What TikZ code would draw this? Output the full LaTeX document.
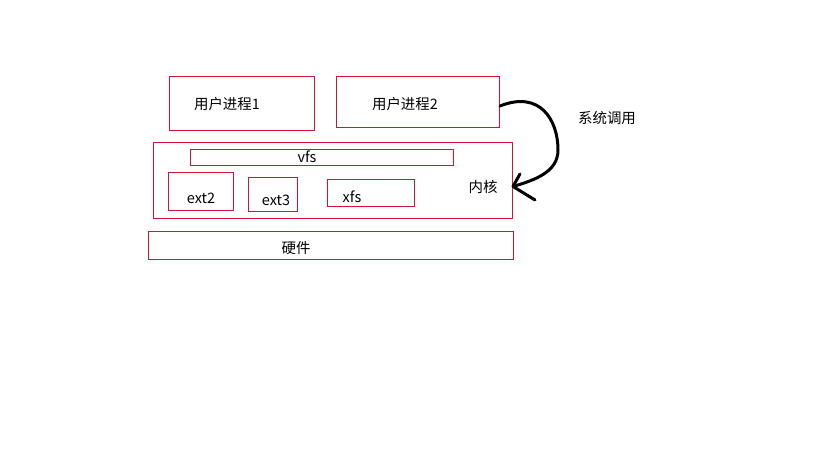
\documentclass[tikz,border=0pt]{standalone}
\usepackage{fontspec}
\setmainfont{Noto Sans CJK SC}
\usepackage{xcolor}
\usetikzlibrary{arrows, arrows.meta}
\usetikzlibrary{calc}
\definecolor{boxred}{RGB}{210,20,50}

\begin{document}
\begin{tikzpicture}[x=1bp, y=-1bp,
		box/.style={draw=boxred, line width=1bp, inner sep=0pt, minimum width=#1},
		txt/.style={inner sep=0pt, font=\fontsize{14.5}{16}\selectfont},
		hand/.style={line width=3bp, black, line cap=round, line join=round}]
				% page
				\useasboundingbox (0,0) rectangle (819,460);
				% draw boxes
				\node[box=145bp, minimum height=54bp] (proc1) at (242,103.5) {};
				\node[box=163bp, minimum height=51bp] (proc2) at (418,102) {};
				\node[box=359bp, minimum height=76bp] (kernel) at (333,180.5) {};
				\node[box=263bp, minimum height=16bp] (vfs) at (322,157.5) {};
				\node[box=65bp, minimum height=38bp] (ext2) at (201,191.5) {};
				\node[box=49bp, minimum height=34bp] (ext3) at (273,194.5) {};
				\node[box=87bp, minimum height=27bp] (xfs) at (371,193) {};
				\node[box=365bp, minimum height=28bp] (hw) at (331,245.5) {};
				% add labels
				\node[txt] (proc1text) at (227,104) {用户进程1};
				\node[txt] (proc2text) at (405,104) {用户进程2};
				\node[txt] (vfstext) at (307,157) {vfs};
				\node[txt] (ext2text) at (201,198) {ext2};
				\node[txt] (ext3text) at (276,200) {ext3};
				\node[txt] (xfstext) at (352,197) {xfs};
				\node[txt] (kerneltext) at (483,187) {内核};
				\node[txt] (hwtext) at (296,248) {硬件};
				% draw system call arrow
				\coordinate (start) at ([yshift=-4bp]proc2.east);
				\coordinate (tip) at ([yshift=-6bp]kernel.east);
				\coordinate (barbA) at (520,174);
				\coordinate (barbB) at (535,200);
				\draw[hand] (start) .. controls (540,90) and (558,120) .. (558,150) .. controls (558,172) and (535,180) .. (tip);
				\draw[hand] (barbA) -- (tip) -- (barbB);
				\node[txt] (calltext) at (607,118) {系统调用};
			\end{tikzpicture}
\end{document}
